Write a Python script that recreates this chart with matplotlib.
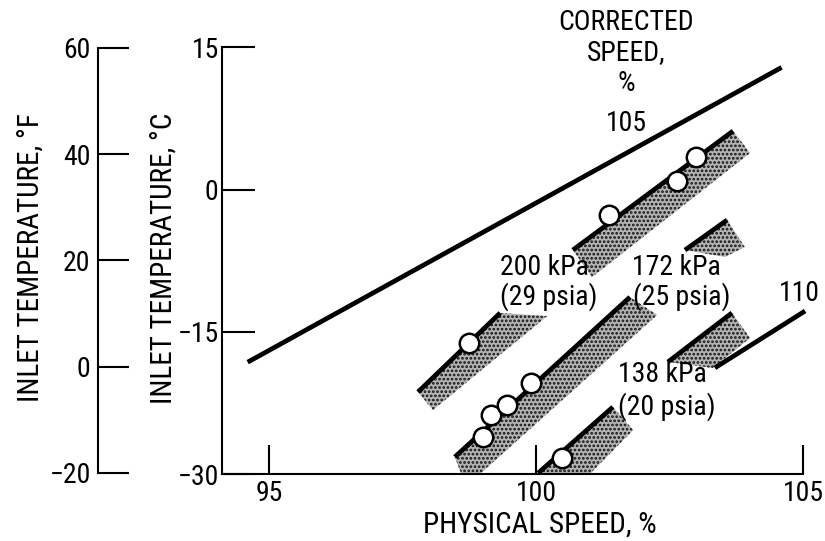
import matplotlib
matplotlib.use("Agg")
import matplotlib.pyplot as plt

plt.rcParams['font.family'] = ['Roboto Condensed', 'Liberation Sans Narrow', 'DejaVu Sans Condensed', 'Roboto', 'DejaVu Sans']
plt.rcParams['hatch.linewidth'] = 1.3

# Corrected-speed reference lines (physical speed %, inlet temperature degC)
corr105_x = [94.6, 104.6]
corr105_y = [-18.2, 12.9]
corr110_x = [103.35, 105.04]
corr110_y = [-18.8, -12.8]

# Operating-band edges for each inlet pressure
p200_lo_x = [97.79, 99.33]
p200_lo_y = [-21.35, -13.0]
p200_hi_x = [100.69, 103.69]
p200_hi_y = [-6.37, 6.19]
p172_lo_x = [98.48, 101.76]
p172_lo_y = [-28.2, -11.33]
p172_hi_x = [102.79, 103.58]
p172_hi_y = [-6.37, -3.2]
p138_lo_x = [100.04, 101.44]
p138_lo_y = [-29.9, -22.93]
p138_hi_x = [102.47, 103.67]
p138_hi_y = [-18.18, -13.0]

# Stippled band outlines
band200_lo = ([97.79, 99.33, 100.21, 98.07], [-21.35, -13.01, -13.33, -23.25])
band200_hi = ([100.69, 103.69, 104.01, 101.05], [-6.37, 6.19, 3.87, -9.22])
band172_lo = ([98.48, 101.76, 102.27, 98.95, 98.60], [-28.21, -11.33, -13.22, -30.0, -30.0])
band172_hi = ([102.79, 103.58, 103.91, 103.54], [-6.37, -3.20, -6.05, -7.10])
band138_lo = ([100.04, 101.44, 101.82, 101.01], [-30.0, -22.93, -25.36, -30.0])
band138_hi = ([102.47, 103.67, 104.01, 103.31], [-18.18, -13.01, -15.65, -18.82])

# Measured points
pts200_x = [98.75, 101.37, 102.64, 103.0]
pts200_y = [-16.2, -2.7, 0.9, 3.45]
pts172_x = [99.01, 99.16, 99.46, 99.91]
pts172_y = [-26.1, -23.8, -22.7, -20.4]
pts138_x = [100.49]
pts138_y = [-28.3]

xticks = [95, 100, 105]
cticks = [-30, -15, 0, 15]
fticks = [-20, 0, 20, 40, 60]

FS = 20
LW = 3.4

fig = plt.figure(figsize=(8.25, 5.41), dpi=100)
ax = fig.add_axes([0.2685, 0.1238, 0.9733 - 0.2685, 0.9122 - 0.1238])
ax.set_xlim(94.11, 105.0)
ax.set_ylim(-30, 15)
for s in ('top', 'right'):
    ax.spines[s].set_visible(False)
for s in ('left', 'bottom'):
    ax.spines[s].set_linewidth(1.5)
ax.set_xticks(xticks)
ax.set_yticks(cticks)
ax.tick_params(axis='x', direction='in', length=21, width=1.5, pad=4, labelsize=FS)
ax.tick_params(axis='y', direction='in', length=24, width=1.5, pad=2, labelsize=FS)

# stippled bands
for bx, by in (band200_lo, band200_hi, band172_lo, band172_hi, band138_lo, band138_hi):
    ax.fill(bx, by, facecolor='#b4b4b4', edgecolor='#111111', hatch='....',
            linewidth=0, zorder=1)

line_kw = dict(color='black', linewidth=LW, solid_capstyle='butt', zorder=3, clip_on=False)
ax.plot(corr105_x, corr105_y, **line_kw)
ax.plot(corr110_x, corr110_y, **line_kw)
for lx, ly in ((p200_lo_x, p200_lo_y), (p200_hi_x, p200_hi_y),
               (p172_lo_x, p172_lo_y), (p172_hi_x, p172_hi_y),
               (p138_lo_x, p138_lo_y), (p138_hi_x, p138_hi_y)):
    ax.plot(lx, ly, **line_kw)

mk = dict(linestyle='none', marker='o', markersize=14, markerfacecolor='white',
          markeredgecolor='black', markeredgewidth=1.8, zorder=4, clip_on=False)
ax.plot(pts200_x, pts200_y, **mk)
ax.plot(pts172_x, pts172_y, **mk)
ax.plot(pts138_x, pts138_y, **mk)

txt = dict(fontsize=FS, va='center', clip_on=False)
ax.text(99.33, -8.16, '200 kPa', ha='left', **txt)
ax.text(99.33, -11.33, '(29 psia)', ha='left', **txt)
ax.text(101.80, -8.16, '172 kPa', ha='left', **txt)
ax.text(101.82, -11.33, '(25 psia)', ha='left', **txt)
ax.text(101.54, -19.55, '138 kPa', ha='left', **txt)
ax.text(101.54, -22.93, '(20 psia)', ha='left', **txt)
ax.text(104.93, -11.0, '110', ha='center', **txt)
ax.text(101.70, 6.93, '105', ha='center', **txt)
ax.text(101.68, 17.69, 'CORRECTED', ha='center', **txt)
ax.text(101.68, 14.52, 'SPEED,', ha='center', **txt)
ax.text(101.70, 11.25, '%', ha='center', **txt)

# Fahrenheit scale drawn as a separate bare axis
axf = fig.add_axes([0.1184, 0.1257, 0.05, 0.9113 - 0.1257])
axf.set_ylim(-20, 60)
axf.set_yticks(fticks)
axf.set_xticks([])
for s in ('top', 'right', 'bottom'):
    axf.spines[s].set_visible(False)
axf.spines['left'].set_linewidth(1.5)
axf.patch.set_visible(False)
axf.tick_params(axis='y', direction='in', length=22, width=1.5, pad=5, labelsize=FS)

fig.text(0.1988, 0.523, 'INLET TEMPERATURE, °C', rotation=90, ha='center', va='center', fontsize=FS + 1)
fig.text(0.0376, 0.523, 'INLET TEMPERATURE, °F', rotation=90, ha='center', va='center', fontsize=FS + 1)
fig.text(0.6545, 0.031, 'PHYSICAL SPEED, %', ha='center', va='center', fontsize=FS + 1)

fig.savefig('out.png', dpi=100)
